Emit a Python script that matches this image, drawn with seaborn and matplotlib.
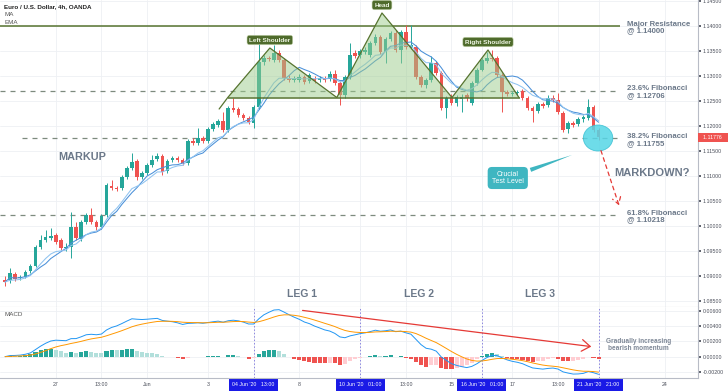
import numpy as np
import pandas as pd
import matplotlib
matplotlib.use("Agg")
import matplotlib.pyplot as plt
import matplotlib.transforms as mtransforms
from matplotlib.patches import Polygon, Ellipse
import seaborn as sns

sns.set_theme(style="white")
plt.rcParams["font.family"] = ["Liberation Sans", "DejaVu Sans"]

# -------------------------------------------------
# EUR/USD 4h candles (25 May - 21 Jun 2020)
# -------------------------------------------------
opens = [1.0892, 1.0892, 1.0904, 1.0896, 1.0898, 1.0910, 1.0920, 1.0958, 1.0972, 1.0976,
         1.0982, 1.0972, 1.0956, 1.0958, 1.0998, 1.0974, 1.1008, 1.1022, 1.1008, 1.0998,
         1.1022, 1.1080, 1.1076, 1.1076, 1.1098, 1.1116, 1.1130, 1.1098, 1.1106, 1.1122,
         1.1134, 1.1140, 1.1110, 1.1132, 1.1136, 1.1132, 1.1126, 1.1170, 1.1166, 1.1176,
         1.1170, 1.1194, 1.1202, 1.1210, 1.1192, 1.1236, 1.1234, 1.1222, 1.1216, 1.1206,
         1.1238, 1.1328, 1.1336, 1.1332, 1.1346, 1.1332, 1.1296, 1.1292, 1.1292, 1.1298,
         1.1290, 1.1294, 1.1292, 1.1295, 1.1294, 1.1304, 1.1286, 1.1262, 1.1298, 1.1346,
         1.1342, 1.1348, 1.1342, 1.1366, 1.1378, 1.1348, 1.1374, 1.1386, 1.1352, 1.1388,
         1.1358, 1.1358, 1.1298, 1.1282, 1.1292, 1.1326, 1.1306, 1.1236, 1.1258, 1.1246,
         1.1254, 1.1262, 1.1246, 1.1286, 1.1312, 1.1330, 1.1336, 1.1336, 1.1302, 1.1268,
         1.1264, 1.1266, 1.1270, 1.1256, 1.1236, 1.1230, 1.1244, 1.1242, 1.1256, 1.1252,
         1.1226, 1.1194, 1.1206, 1.1204, 1.1214, 1.1216, 1.1238, 1.1192]
highs = [1.0900, 1.0916, 1.0908, 1.0902, 1.0912, 1.0924, 1.0962, 1.0982, 1.0992, 1.0996,
         1.0986, 1.0976, 1.0966, 1.1028, 1.1008, 1.1012, 1.1026, 1.1036, 1.1012, 1.1024,
         1.1086, 1.1092, 1.1080, 1.1102, 1.1120, 1.1146, 1.1134, 1.1110, 1.1126, 1.1142,
         1.1146, 1.1144, 1.1134, 1.1140, 1.1140, 1.1136, 1.1174, 1.1176, 1.1196, 1.1180,
         1.1198, 1.1208, 1.1214, 1.1228, 1.1240, 1.1256, 1.1238, 1.1226, 1.1220, 1.1242,
         1.1366, 1.1342, 1.1340, 1.1362, 1.1352, 1.1336, 1.1302, 1.1300, 1.1304, 1.1302,
         1.1306, 1.1300, 1.1300, 1.1300, 1.1310, 1.1312, 1.1290, 1.1302, 1.1366, 1.1352,
         1.1354, 1.1358, 1.1370, 1.1384, 1.1382, 1.1378, 1.1390, 1.1392, 1.1392, 1.1402,
         1.1402, 1.1362, 1.1302, 1.1296, 1.1340, 1.1330, 1.1310, 1.1260, 1.1264, 1.1262,
         1.1264, 1.1266, 1.1290, 1.1316, 1.1336, 1.1348, 1.1352, 1.1340, 1.1306, 1.1272,
         1.1270, 1.1272, 1.1274, 1.1260, 1.1240, 1.1248, 1.1248, 1.1262, 1.1262, 1.1266,
         1.1230, 1.1210, 1.1210, 1.1218, 1.1222, 1.1254, 1.1242, 1.1196]
lows = [1.0880, 1.0886, 1.0890, 1.0892, 1.0896, 1.0906, 1.0918, 1.0954, 1.0968, 1.0972,
        1.0964, 1.0952, 1.0950, 1.0936, 1.0972, 1.0970, 1.1004, 1.1004, 1.0992, 1.0994,
        1.1018, 1.1072, 1.1070, 1.1072, 1.1094, 1.1112, 1.1092, 1.1094, 1.1102, 1.1118,
        1.1130, 1.1102, 1.1106, 1.1128, 1.1128, 1.1122, 1.1122, 1.1162, 1.1162, 1.1166,
        1.1166, 1.1190, 1.1198, 1.1188, 1.1188, 1.1228, 1.1218, 1.1212, 1.1204, 1.1196,
        1.1234, 1.1322, 1.1330, 1.1328, 1.1328, 1.1292, 1.1288, 1.1288, 1.1288, 1.1284,
        1.1286, 1.1286, 1.1288, 1.1288, 1.1290, 1.1282, 1.1242, 1.1256, 1.1294, 1.1336,
        1.1336, 1.1344, 1.1338, 1.1362, 1.1344, 1.1326, 1.1370, 1.1348, 1.1326, 1.1354,
        1.1354, 1.1294, 1.1278, 1.1276, 1.1288, 1.1302, 1.1232, 1.1216, 1.1242, 1.1240,
        1.1228, 1.1250, 1.1242, 1.1282, 1.1310, 1.1326, 1.1330, 1.1298, 1.1228, 1.1260,
        1.1260, 1.1262, 1.1252, 1.1232, 1.1208, 1.1226, 1.1236, 1.1238, 1.1248, 1.1224,
        1.1188, 1.1186, 1.1198, 1.1200, 1.1208, 1.1212, 1.1188, 1.1172]
closes = [1.0888, 1.0906, 1.0894, 1.0898, 1.0908, 1.0920, 1.0958, 1.0972, 1.0978, 1.0980,
          1.0968, 1.0956, 1.0958, 1.0998, 1.0976, 1.1008, 1.1022, 1.1008, 1.0998, 1.1020,
          1.1082, 1.1076, 1.1074, 1.1098, 1.1116, 1.1128, 1.1098, 1.1106, 1.1122, 1.1132,
          1.1140, 1.1108, 1.1130, 1.1136, 1.1132, 1.1126, 1.1170, 1.1166, 1.1176, 1.1170,
          1.1194, 1.1204, 1.1210, 1.1192, 1.1236, 1.1232, 1.1222, 1.1216, 1.1208, 1.1238,
          1.1328, 1.1336, 1.1334, 1.1346, 1.1332, 1.1296, 1.1292, 1.1294, 1.1298, 1.1288,
          1.1302, 1.1290, 1.1296, 1.1293, 1.1304, 1.1286, 1.1262, 1.1298, 1.1342, 1.1340,
          1.1350, 1.1352, 1.1366, 1.1378, 1.1348, 1.1374, 1.1386, 1.1352, 1.1388, 1.1358,
          1.1362, 1.1298, 1.1282, 1.1292, 1.1326, 1.1306, 1.1236, 1.1256, 1.1246, 1.1258,
          1.1258, 1.1256, 1.1286, 1.1312, 1.1332, 1.1336, 1.1334, 1.1302, 1.1268, 1.1264,
          1.1266, 1.1268, 1.1256, 1.1236, 1.1230, 1.1244, 1.1240, 1.1256, 1.1252, 1.1228,
          1.1192, 1.1206, 1.1202, 1.1214, 1.1218, 1.1238, 1.1192, 1.11776]

last_price = "1.11776"

# date axis (bar index -> label)
date_ticks = [10, 19, 28, 40, 49, 58, 70, 79, 88, 94, 100, 109, 117, 130]
date_labels = ["27", "13:00", "Jun", "3", "04 Jun '20   13:00", "8", "10 Jun '20   01:00",
               "13:00", "15", "16 Jun '20   01:00", "17", "13:00", "21 Jun '20   21:00", "24"]
leg_marks = [49, 70, 94, 117]

# key levels
level_values = [1.14000, 1.12706, 1.11755, 1.10218]
level_names = ["Major Resistance\n@ 1.14000", "23.6% Fibonacci\n@ 1.12706",
               "38.2% Fibonacci\n@ 1.11755", "61.8% Fibonacci\n@ 1.10218"]

# head & shoulders pivots (bar index, price)
hs_x = [43.9, 52.2, 65.4, 74.3, 88.1, 95.2, 101.3]
hs_y = [1.1257, 1.1356, 1.1257, 1.1426, 1.1257, 1.1352, 1.1257]
hs_names = ["Left Shoulder", "Head", "Right Shoulder"]
neckline = 1.1257

# -------------------------------------------------
# Colours
# -------------------------------------------------
GREEN = "#26a69a"
RED = "#ef5350"
OLIVE = "#56732f"
NOTE = "#6b7889"
TEAL = "#3fb6c1"

o, h, l, c = map(np.array, (opens, highs, lows, closes))
idx = np.arange(len(c))
close_s = pd.Series(c)
ma = close_s.rolling(9, min_periods=1).mean()
ema = close_s.ewm(span=9, adjust=False).mean()
macd = close_s.ewm(span=12, adjust=False).mean() - close_s.ewm(span=26, adjust=False).mean()
signal = macd.ewm(span=9, adjust=False).mean()
hist = macd - signal
prev = hist.shift(1).fillna(0)
hist_col = np.where(hist >= 0,
                    np.where(hist >= prev, GREEN, "#b2dfdb"),
                    np.where(hist <= prev, RED, "#ffcdd2"))

fig = plt.figure(figsize=(7.28, 3.91), dpi=100)
ax = fig.add_axes([0, 0.2148, 0.9588, 0.7852])
ax2 = fig.add_axes([0, 0.0332, 0.9588, 0.1816], sharex=ax)

# ----- candles
col = np.where(c >= o, GREEN, RED)
ax.vlines(idx, l, h, colors=col, lw=0.7, zorder=3)
ax.bar(idx, np.maximum(np.abs(c - o), 0.00005), bottom=np.minimum(o, c),
       width=0.72, color=col, linewidth=0, zorder=3)
sns.lineplot(x=idx, y=ma.values, ax=ax, color="#4a90d9", lw=0.75, zorder=4)
sns.lineplot(x=idx, y=ema.values, ax=ax, color="#8fc3f0", lw=0.75, zorder=4)

# ----- levels
ax.hlines(level_values[0], -1, 121.2, color=OLIVE, lw=1.1, zorder=2)
ax.hlines(level_values[1], -1, 121.2, color="#7d8a7e", lw=0.9, ls=(0, (4, 4)), zorder=2)
ax.hlines(level_values[2], 3.3, 121.2, color="#7d8a7e", lw=0.9, ls=(0, (4, 4)), zorder=2)
ax.hlines(level_values[3], -1, 121.2, color="#7d8a7e", lw=0.9, ls=(0, (4, 4)), zorder=2)
for v, name in zip(level_values, level_names):
    ax.text(122.6, v - 0.0003, name, fontsize=5.6, weight="bold", color=NOTE,
            va="center", ha="left", linespacing=0.95)

# ----- head & shoulders
for k in range(3):
    pts = list(zip(hs_x[2 * k:2 * k + 3], hs_y[2 * k:2 * k + 3]))
    ax.add_patch(Polygon(pts, closed=True, fc="#9ccc8c", ec="none", alpha=0.5, zorder=5))
    ax.text(hs_x[2 * k + 1], hs_y[2 * k + 1] + 0.0016, hs_names[k], fontsize=4.6,
            weight="bold", color="#eef5e4", ha="center", va="center", zorder=7,
            bbox=dict(boxstyle="round,pad=0.35", fc="#4f6b2c", ec="#c9d8b4", lw=0.4))
ax.plot([42.2] + hs_x, [1.1234] + hs_y, color=OLIVE, lw=0.9, zorder=6)
ax.hlines(neckline, hs_x[0], 101.5, color=OLIVE, lw=1.1, zorder=6)

# ----- annotations
ax.text(15.2, 1.1138, "MARKUP", fontsize=7.8, weight="bold", color=NOTE, ha="center", va="center")
ax.text(127.5, 1.1106, "MARKDOWN?", fontsize=8, weight="bold", color=NOTE, ha="center", va="center")
for x, t in zip([58.5, 81.6, 105.4], ["LEG 1", "LEG 2", "LEG 3"]):
    ax.text(x, 1.0864, t, fontsize=7.5, weight="bold", color=NOTE, ha="center", va="center")

ax.add_patch(Ellipse((116.9, 1.1176), width=5.8, height=0.0052, angle=0, fc="#55d6e6",
                     ec="#36bfd2", lw=0.6, alpha=0.85, zorder=8))
ax.annotate("Crucial\nTest Level", xy=(112.3, 1.1144), xytext=(99.1, 1.1096),
            fontsize=5, color="white", ha="center", va="center", zorder=9, linespacing=0.95,
            bbox=dict(boxstyle="round,pad=0.6", fc=TEAL, ec="none"),
            arrowprops=dict(arrowstyle="wedge,tail_width=0.5,shrink_factor=0.5",
                            fc=TEAL, ec="none", mutation_scale=6))
ax.annotate("", xy=(121.2, 1.1036), xytext=(117.3, 1.1156), zorder=9,
            arrowprops=dict(arrowstyle="->,head_length=0.4,head_width=0.25",
                            color="#e53935", lw=0.9, ls=(0, (3, 3))))

# ----- price axis
ax.set_xlim(-1.0, 136.6)
ax.set_ylim(1.0838, 1.1452)
ax.yaxis.tick_right()
ax.set_yticks(np.arange(1.085, 1.1451, 0.005))
ax.yaxis.set_major_formatter(matplotlib.ticker.FormatStrFormatter("%.5f"))
ax.tick_params(axis="y", labelsize=3.8, colors="#4a4e5a", length=2, pad=1.5, right=True)
ax.set_xticks(date_ticks)
ax.tick_params(axis="x", labelbottom=False, length=0)
ax.grid(True, color="#eef0f4", lw=0.6)
ax.set_xlabel("")
ax.set_ylabel("")
blend = mtransforms.blended_transform_factory(ax.transAxes, ax.transData)
ax.text(1.003, float(last_price), "  " + last_price + "   ", transform=blend, fontsize=3.8,
        color="white", va="center", ha="left", bbox=dict(fc=RED, ec="none", pad=1.4),
        zorder=10, clip_on=False)

fig.text(0.006, 1 - 7 / 391, "Euro / U.S. Dollar, 4h, OANDA", fontsize=4.5, weight="bold",
         color="#222222", va="center")
fig.text(0.006, 1 - 15 / 391, "MA", fontsize=4.5, color="#555555", va="center")
fig.text(0.006, 1 - 23 / 391, "EMA", fontsize=4.5, color="#555555", va="center")

# ----- MACD panel
ax2.bar(idx, hist.values, width=0.8, color=hist_col, linewidth=0, zorder=3)
sns.lineplot(x=idx, y=macd.values, ax=ax2, color="#2196f3", lw=0.7, zorder=4)
sns.lineplot(x=idx, y=signal.values, ax=ax2, color="#ff9800", lw=0.7, zorder=4)
for t in leg_marks:
    ax2.axvline(t, color="#8c86e0", lw=0.7, ls=(0, (1.5, 2)), zorder=2)
ax2.annotate("", xy=(116.1, 0.00127), xytext=(58.1, 0.0061),
             arrowprops=dict(arrowstyle="->,head_length=0.5,head_width=0.35",
                             color="#e53935", lw=0.9))
ax2.text(124.8, 0.0015, "Gradually increasing\nbearish momentum", fontsize=4.7,
         weight="bold", color="#7d8796", ha="center", va="center", linespacing=0.95)
ax2.text(0.006, 0.87, "MACD", transform=ax2.transAxes, fontsize=4.5, color="#555555")
ax2.set_ylim(-0.0028, 0.0065)
ax2.yaxis.tick_right()
ax2.set_yticks([-0.002, 0.0, 0.002, 0.004, 0.006])
ax2.yaxis.set_major_formatter(matplotlib.ticker.FormatStrFormatter("%.5f"))
ax2.tick_params(axis="y", labelsize=3.8, colors="#4a4e5a", length=2, pad=1.5, right=True)
ax2.set_xticks(date_ticks)
ax2.set_xticklabels(date_labels)
ax2.tick_params(axis="x", labelsize=3.8, colors="#4a4e5a", length=0, pad=3)
for lab in ax2.get_xticklabels():
    if "'20" in lab.get_text():
        lab.set_color("white")
        lab.set_bbox(dict(fc="#1a1ae6", ec="none", pad=2.4))
ax2.grid(True, color="#eef0f4", lw=0.6)
ax2.set_xlabel("")
ax2.set_ylabel("")

for a in (ax, ax2):
    for s in ("top", "left"):
        a.spines[s].set_visible(False)
    for s in ("right", "bottom"):
        a.spines[s].set_color("#b8bcc6")
        a.spines[s].set_linewidth(0.8)

fig.savefig("out.png", dpi=100)
